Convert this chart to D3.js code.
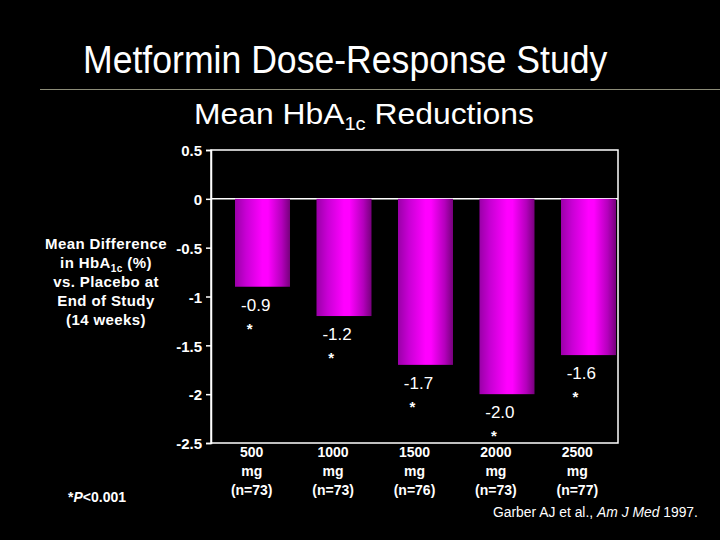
<!DOCTYPE html>
<html><head><meta charset="utf-8">
<script src="https://cdn.jsdelivr.net/npm/d3@7"></script>
<style>
html,body{margin:0;padding:0;background:#000;}
svg{display:block;}
text{fill:#fff;}
</style></head>
<body><svg id="c" width="720" height="540"></svg>
<script>
const doses = ["500", "1000", "1500", "2000", "2500"];
const nLabels = ["(n=73)", "(n=73)", "(n=76)", "(n=73)", "(n=77)"];
const values = [-0.9, -1.2, -1.7, -2.0, -1.6];
const valueLabels = ["-0.9", "-1.2", "-1.7", "-2.0", "-1.6"];
const yTicks = [0.5, 0, -0.5, -1, -1.5, -2, -2.5];
const yLabelLines = ["Mean Difference", "in HbA|1c| (%)", "vs. Placebo at", "End of Study", "(14 weeks)"];

const svg = d3.select("#c");
const narrow = "'Liberation Sans Narrow','Arial Narrow','Liberation Sans',Arial,sans-serif";
const sans = "'Liberation Sans',Arial,Helvetica,sans-serif";

svg.append("rect").attr("width",720).attr("height",540).attr("fill","#000");

// fit a text group horizontally to a target left/right span
function fitX(gSel, left, width){
  const bb = gSel.node().getBBox();
  const s = width / bb.width;
  gSel.attr("transform", `translate(${left},0) scale(${s},1) translate(${-bb.x},0)`);
}

// Title
const tg = svg.append("g");
tg.append("text").attr("x",0).attr("y",73).attr("font-family",narrow).attr("font-size",39)
  .text("Metformin Dose-Response Study");
fitX(tg, 83, 525);
svg.append("line").attr("x1",40).attr("x2",720).attr("y1",89.5).attr("y2",89.5)
  .attr("stroke","#8c8c78").attr("stroke-width",1);

// Subtitle
const sg = svg.append("g");
const st = sg.append("text").attr("x",0).attr("y",124).attr("font-family",narrow).attr("font-size",30);
st.append("tspan").text("Mean HbA");
st.append("tspan").attr("font-size",19).attr("dy",6).text("1c");
st.append("tspan").attr("dy",-6).text(" Reductions");
fitX(sg, 194, 340);

// Scales
const x0 = 211, x1 = 618;
const y = d3.scaleLinear().domain([0.5,-2.5]).range([150,443]);
const xCat = d3.scaleBand().domain(doses).range([x0,x1]);
const xBar = d3.scaleBand().domain(doses).range([235,616]).paddingInner(0.325).paddingOuter(0);

// Gradient
const defs = svg.append("defs");
const g = defs.append("linearGradient").attr("id","barGrad").attr("x1","0").attr("x2","1").attr("y1","0").attr("y2","0");
[[0,"#9a00a8"],[0.2,"#c800d4"],[0.5,"#ff00ff"],[0.6,"#ff00ff"],[0.85,"#b400bc"],[1,"#76007c"]].forEach(([o,c])=>{
  g.append("stop").attr("offset",o).attr("stop-color",c);
});

// Frame
svg.append("rect").attr("x",x0).attr("y",y(0.5)).attr("width",x1-x0).attr("height",y(-2.5)-y(0.5))
  .attr("fill","none").attr("stroke","#fff").attr("stroke-width",1.5);
svg.append("line").attr("x1",x0).attr("x2",x1).attr("y1",y(0)).attr("y2",y(0)).attr("stroke","#fff").attr("stroke-width",1.5);

// Bars
svg.selectAll("rect.bar").data(values).enter().append("rect").attr("class","bar")
  .attr("x",(d,i)=>xBar(doses[i])).attr("width",xBar.bandwidth())
  .attr("y",d=>y(Math.max(0,d))).attr("height",d=>Math.abs(y(d)-y(0)))
  .attr("fill","url(#barGrad)");

// Y axis
const yAxis = d3.axisLeft(y).tickValues(yTicks).tickSize(5).tickPadding(4)
  .tickFormat(d=>d===0?"0":String(d));
const ya = svg.append("g").attr("transform",`translate(${x0},0)`).call(yAxis);
ya.select(".domain").attr("stroke","#fff").attr("stroke-width",1.5);
ya.selectAll(".tick line").attr("stroke","#fff").attr("stroke-width",1.5);
ya.selectAll(".tick text").attr("fill","#fff").attr("font-family",sans).attr("font-weight","bold")
  .attr("font-size",15).attr("dy","0.38em");

// Y label
yLabelLines.forEach((line,i)=>{
  const t = svg.append("text").attr("x",106).attr("y",249+i*19).attr("text-anchor","middle")
    .attr("font-family",sans).attr("font-weight","bold").attr("font-size",15).attr("letter-spacing",0.4);
  const parts = line.split("|");
  if(parts.length===1){ t.text(line); }
  else {
    t.append("tspan").text(parts[0]);
    t.append("tspan").attr("font-size",10).attr("dy",4).text(parts[1]);
    t.append("tspan").attr("dy",-4).text(parts[2]);
  }
});

// Value labels and stars
values.forEach((v,i)=>{
  const cx = xCat(doses[i]) + xCat.bandwidth()/2;
  svg.append("text").attr("x",cx+4).attr("y",y(v)+24).attr("text-anchor","middle")
    .attr("font-family",sans).attr("font-size",17).text(valueLabels[i]);
  svg.append("text").attr("x",cx-2).attr("y",y(v)+47).attr("text-anchor","middle")
    .attr("font-family",sans).attr("font-weight","bold").attr("font-size",15).text("*");
});

// Category labels
doses.forEach((d,i)=>{
  const cx = xCat(d) + xCat.bandwidth()/2;
  [d,"mg",nLabels[i]].forEach((s,j)=>{
    svg.append("text").attr("x",cx).attr("y",457+j*19).attr("text-anchor","middle")
      .attr("font-family",sans).attr("font-weight","bold").attr("font-size",14).text(s);
  });
});

// Footnote
const fn = svg.append("text").attr("x",68).attr("y",502).attr("font-family",sans).attr("font-weight","bold").attr("font-size",14);
fn.append("tspan").text("*");
fn.append("tspan").attr("font-style","italic").text("P");
fn.append("tspan").text("<0.001");

// Citation
const cg = svg.append("g");
const ct = cg.append("text").attr("x",0).attr("y",517).attr("font-family",narrow).attr("font-size",15);
ct.append("tspan").text("Garber AJ et al., ");
ct.append("tspan").attr("font-style","italic").text("Am J Med");
ct.append("tspan").text(" 1997.");
fitX(cg, 493, 205);
</script>
</body></html>
